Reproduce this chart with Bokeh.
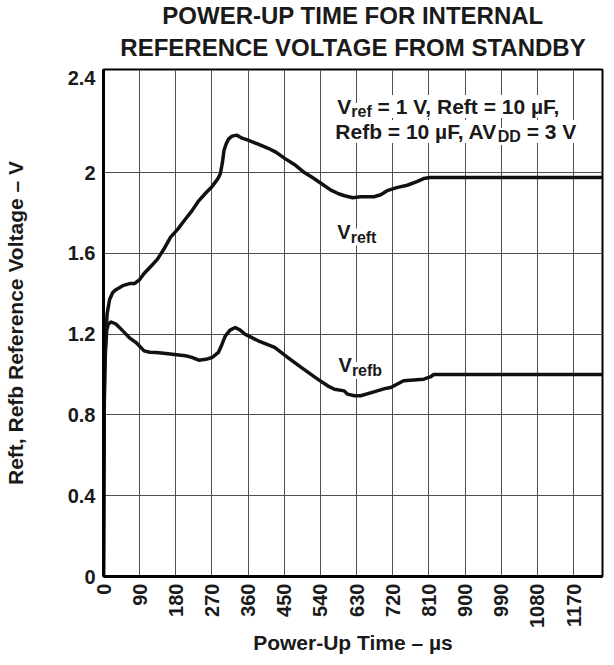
import math
from bokeh.plotting import figure
from bokeh.models import Label, Title, FixedTicker, Range1d
from bokeh.embed import file_html
from bokeh.resources import INLINE

# ---------------- data ----------------
TITLE_LINES = ["POWER-UP TIME FOR INTERNAL", "REFERENCE VOLTAGE FROM STANDBY"]
X_LABEL = "Power-Up Time – µs"
Y_LABEL = "Reft, Refb Reference Voltage – V"
X_TICKS = [0, 90, 180, 270, 360, 450, 540, 630, 720, 810, 900, 990, 1080, 1170]
Y_TICKS = [0, 0.4, 0.8, 1.2, 1.6, 2.0, 2.4]
Y_TICK_LABELS = ["0", "0.4", "0.8", "1.2", "1.6", "2", "2.4"]

T_REFT = [0, 1, 2, 4, 6, 9, 15, 23, 31, 48, 65, 77, 90, 101, 120, 134, 150, 167, 185, 204,
          220, 237, 255, 270, 285, 291, 296, 300, 305, 311, 320, 332, 345, 360, 385, 410, 430,
          451, 475, 500, 520, 542, 566, 585, 600, 620, 640, 673, 690, 706, 730, 756, 780, 797,
          813, 1242]
V_REFT = [0, 0.5, 0.9, 1.1, 1.2, 1.3, 1.37, 1.406, 1.42, 1.44, 1.45, 1.45, 1.47, 1.50, 1.54,
          1.57, 1.62, 1.68, 1.72, 1.77, 1.81, 1.86, 1.90, 1.93, 1.97, 1.995, 2.05, 2.11, 2.14,
          2.165, 2.18, 2.185, 2.17, 2.16, 2.14, 2.12, 2.10, 2.07, 2.04, 2.00, 1.975, 1.946,
          1.913, 1.895, 1.885, 1.875, 1.88, 1.88, 1.89, 1.91, 1.925, 1.937, 1.955, 1.97, 1.975,
          1.975]

T_REFB = [0, 1, 2, 3, 5, 8, 12, 19, 31, 48, 64, 81, 101, 115, 130, 150, 171, 204, 220, 237,
          255, 270, 286, 295, 303, 315, 328, 340, 352, 385, 426, 459, 492, 533, 558, 575, 599,
          607, 625, 640, 673, 700, 715, 747, 797, 815, 822, 1242]
V_REFB = [0, 0.5, 0.85, 1.0, 1.12, 1.22, 1.25, 1.26, 1.25, 1.216, 1.183, 1.158, 1.117, 1.11,
          1.109, 1.105, 1.10, 1.093, 1.085, 1.071, 1.075, 1.084, 1.109, 1.15, 1.19, 1.22, 1.233,
          1.22, 1.20, 1.167, 1.134, 1.084, 1.035, 0.977, 0.944, 0.927, 0.919, 0.903, 0.895,
          0.895, 0.914, 0.93, 0.936, 0.969, 0.977, 0.99, 1.0, 1.0]

# ---------------- style ----------------
FONT = "Liberation Sans"
INK = "#1a1a1a"
X_END = 1242
Y_END = 2.51

p = figure(width=604, height=656, x_range=Range1d(0, X_END), y_range=Range1d(0, Y_END),
           output_backend="svg", toolbar_location=None, title=None,
           min_border_left=99, min_border_right=2, min_border_top=69, min_border_bottom=80)
p.background_fill_color = "white"
p.border_fill_color = "white"
p.outline_line_color = "black"
p.outline_line_width = 2

# titles (first added is closest to the plot)
p.add_layout(Title(text=TITLE_LINES[1], align="center", text_font=FONT, text_font_style="bold",
                   text_font_size="24px", text_color=INK, standoff=17), "above")
p.add_layout(Title(text=TITLE_LINES[0], align="center", text_font=FONT, text_font_style="bold",
                   text_font_size="24px", text_color=INK, standoff=-10), "above")

# axes
for ax in (p.xaxis[0], p.yaxis[0]):
    ax.major_tick_line_color = None
    ax.minor_tick_line_color = None
    ax.major_tick_out = 0
    ax.major_tick_in = 0
    ax.minor_tick_out = 0
    ax.minor_tick_in = 0
    ax.axis_line_width = 3
    ax.axis_line_color = "black"
    ax.major_label_text_font = FONT
    ax.major_label_text_font_style = "bold"
    ax.major_label_text_font_size = "20px"
    ax.major_label_text_color = INK
    ax.axis_label_text_font = FONT
    ax.axis_label_text_font_style = "bold"
    ax.axis_label_text_font_size = "21px"
    ax.axis_label_text_color = INK

p.xaxis.ticker = FixedTicker(ticks=X_TICKS)
p.xaxis.major_label_orientation = math.pi / 2
p.xaxis.major_label_standoff = 7
p.xaxis.axis_label = X_LABEL
p.xaxis.axis_label_standoff = 0

y_pos = Y_TICKS[:-1] + [Y_END - 0.04]
p.yaxis.ticker = FixedTicker(ticks=y_pos)
p.yaxis.major_label_overrides = {pos: lab for pos, lab in zip(y_pos, Y_TICK_LABELS)}
p.yaxis.major_label_standoff = 8
p.yaxis.axis_label = Y_LABEL
p.yaxis.axis_label_standoff = 38

p.xgrid.ticker = FixedTicker(ticks=X_TICKS[1:])
p.ygrid.ticker = FixedTicker(ticks=Y_TICKS[1:-1])
for g in (p.xgrid[0], p.ygrid[0]):
    g.grid_line_color = "#505050"
    g.grid_line_width = 1

# curves
p.line(T_REFT, V_REFT, line_color="#111111", line_width=3.5, line_join="round")
p.line(T_REFB, V_REFB, line_color="#111111", line_width=3.5, line_join="round")

# rich text helper (Arial-bold advance widths per 1000 em, with a few kerning pairs)
W = {" ": 278, ",": 278, ".": 278, "=": 584, "A": 722, "D": 722, "F": 611, "R": 722,
     "V": 667, "a": 556, "b": 611, "e": 556, "f": 333, "r": 389, "t": 333, "µ": 611}
KERN = {("A", "V"): -74, ("F", ","): -111, ("V", ","): -111}

def tw(s, size):
    total = sum(W.get(c, 556) for c in s)
    total += sum(KERN.get((a, b), 0) for a, b in zip(s, s[1:]))
    return total * size / 1000.0

def rich(x, y, pieces):
    off = 0.0
    for text, size, dy in pieces:
        stripped = text.lstrip(" ")
        off += tw(text[:len(text) - len(stripped)], size)
        p.add_layout(Label(x=x, y=y, x_offset=off, y_offset=dy, text=stripped,
                           text_font=FONT, text_font_style="bold",
                           text_font_size=f"{size}px", text_color=INK,
                           text_baseline="alphabetic", text_align="left",
                           background_fill_color="white", background_fill_alpha=1.0))
        off += tw(stripped, size)

BIG, SUB, DROP = 21, 16, -5
rich(582, 2.327, [("V", BIG, 0), ("ref", SUB, DROP), (" = 1 V, Reft = 10 µF,", BIG, 0)])
rich(577, 2.203, [("Refb = 10 µF, AV", BIG, 0), ("DD", SUB, DROP), (" = 3 V", BIG, 0)])
rich(582, 1.705, [("V", 20, 0), ("reft", SUB, DROP)])
rich(585, 1.045, [("V", 20, 0), ("refb", SUB, DROP)])

open("out.html", "w").write(file_html(p, INLINE))
